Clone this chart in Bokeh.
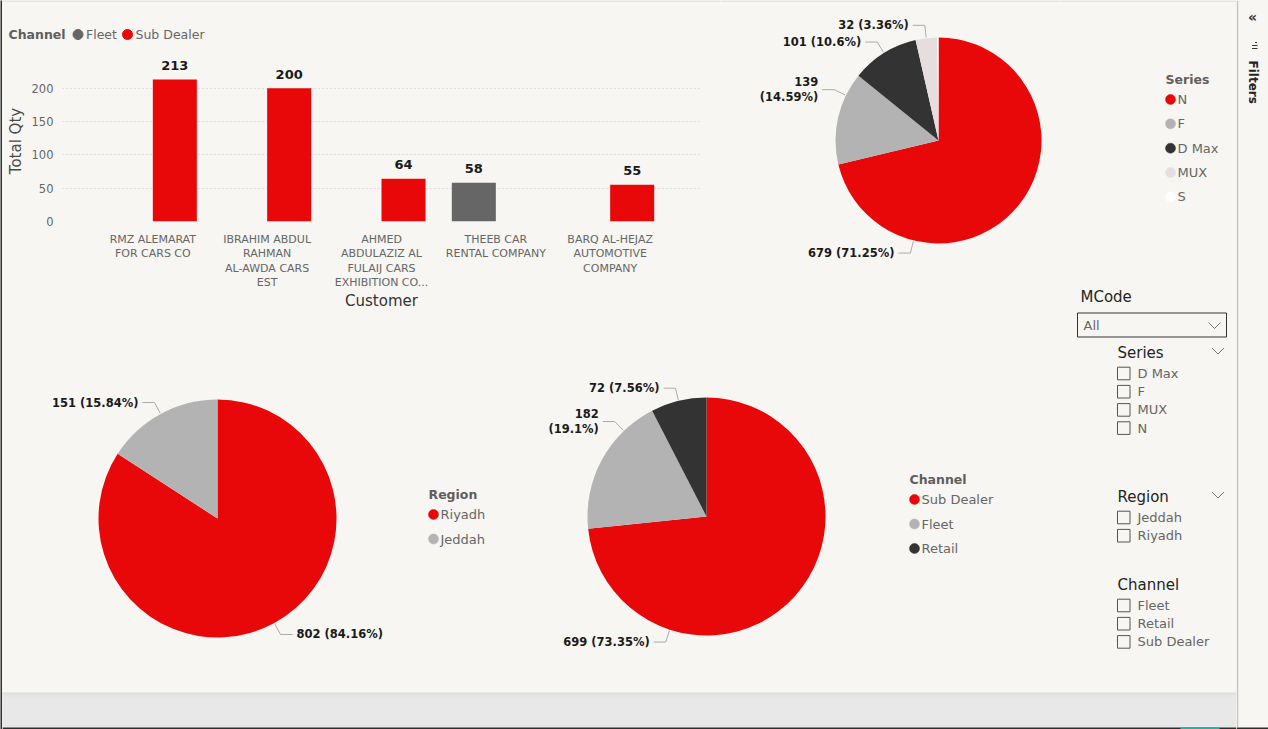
import math
from itertools import accumulate

from bokeh.plotting import figure
from bokeh.layouts import row, column
from bokeh.models import Range1d, FactorRange, ColumnDataSource, FixedTicker
from bokeh.transform import dodge
from bokeh.core.properties import value
from bokeh.embed import file_html
from bokeh.resources import INLINE

# ---------------------------------------------------------------- data
customers = ["RMZ ALEMARAT FOR CARS CO",
             "IBRAHIM ABDUL RAHMAN AL-AWDA CARS EST",
             "AHMED ABDULAZIZ AL FULAIJ CARS EXHIBITION CO...",
             "THEEB CAR RENTAL COMPANY",
             "BARQ AL-HEJAZ AUTOMOTIVE COMPANY"]
customer_tick_labels = ["RMZ ALEMARAT\nFOR CARS CO",
                        "IBRAHIM ABDUL\nRAHMAN\nAL-AWDA CARS\nEST",
                        "AHMED\nABDULAZIZ AL\nFULAIJ CARS\nEXHIBITION CO...",
                        "THEEB CAR\nRENTAL COMPANY",
                        "BARQ AL-HEJAZ\nAUTOMOTIVE\nCOMPANY"]
bar_channels = ["Fleet", "Sub Dealer"]
fleet_qty = [None, None, None, 58, None]
sub_dealer_qty = [213, 200, 64, None, 55]
qty_ticks = [0, 50, 100, 150, 200]

series_names = ["N", "F", "D Max", "MUX", "S"]
series_qty = [679, 139, 101, 32, 2]

region_names = ["Riyadh", "Jeddah"]
region_qty = [802, 151]

channel_names = ["Sub Dealer", "Fleet", "Retail"]
channel_qty = [699, 182, 72]

mcode_value = "All"
slicer_series = ["D Max", "F", "MUX", "N"]
slicer_region = ["Jeddah", "Riyadh"]
slicer_channel = ["Fleet", "Retail", "Sub Dealer"]

# ---------------------------------------------------------------- style
BG = "#F7F6F2"
RED = "#E8080A"
FLEET_GRAY = "#666666"
LIGHT = "#B3B3B3"
DARK = "#333333"
MUXC = "#E6DEDE"
WHITE = "#FFFFFF"
FONT = value("DejaVu Sans")
LEGEND_TITLE_C = "#605E5C"
LEGEND_TEXT_C = "#666666"
BOX = {"background-color": BG}

bar_colors = [FLEET_GRAY, RED]
series_colors = [RED, LIGHT, DARK, MUXC, WHITE]
region_colors = [RED, LIGHT]
channel_colors = [RED, LIGHT, DARK]


def canvas(w, h, bg=BG):
    p = figure(width=w, height=h, x_range=Range1d(0, w), y_range=Range1d(0, h),
               output_backend="svg", toolbar_location=None, min_border=0,
               x_axis_type=None, y_axis_type=None)
    p.grid.visible = False
    p.outline_line_color = None
    p.background_fill_color = bg
    p.border_fill_color = bg
    return p


def txt(p, H, x, ytop, s, size="13px", color="#252423", bold=False,
        align="left", baseline="middle", angle=0.0):
    p.text(x=[x], y=[H - ytop], text=[s], text_font=FONT, text_font_size=size,
           text_color=color, text_font_style="bold" if bold else "normal",
           text_align=align, text_baseline=baseline, angle=angle)


def top_edge(p, H, w):
    p.line([0, w], [H - 0.75, H - 0.75], line_color="#E3E3E3", line_width=1.5)


def legend(p, H, x0, ytop, title, names, colors, step=24.5, gap=20, dot_dx=5, text_dx=12):
    txt(p, H, x0, ytop, title, size="12.5px", color=LEGEND_TITLE_C, bold=True)
    ys = [H - (ytop + gap + step * i) for i in range(len(names))]
    p.scatter(x=[x0 + dot_dx] * len(names), y=ys, size=10, fill_color=colors,
              line_color=colors, line_width=0.5)
    p.text(x=[x0 + text_dx] * len(names), y=ys, text=names, text_font=FONT,
           text_font_size="13px", text_color=LEGEND_TEXT_C,
           text_baseline="middle", text_align="left")


def draw_pie(p, H, cx, cytop, r, names, qty, colors, anchor_override=None, wrapped=()):
    anchor_override = anchor_override or {}
    cy = H - cytop
    total = sum(qty)
    fr = [q / total for q in qty]
    c1 = list(accumulate(fr))
    c0 = [b - f for b, f in zip(c1, fr)]
    src = ColumnDataSource(dict(
        start=[math.pi / 2 - 2 * math.pi * b for b in c1],
        end=[math.pi / 2 - 2 * math.pi * a for a in c0],
        color=colors))
    p.wedge(x=cx, y=cy, radius=r, start_angle="start", end_angle="end",
            direction="anticlock", fill_color="color", line_color=None, source=src)
    xs, ys = [], []
    left = dict(x=[], y=[], t=[])
    right = dict(x=[], y=[], t=[])
    for name, q, a, f in zip(names, qty, c0, fr):
        if f < 0.01:
            continue
        theta = math.radians(anchor_override.get(name, (a + f / 2) * 360))
        dx, dy = math.sin(theta), math.cos(theta)
        x0, y0 = cx + (r + 1) * dx, cy + (r + 1) * dy
        x1, y1 = cx + (r + 13) * dx, cy + (r + 13) * dy
        side = 1 if dx >= 0 else -1
        x2 = x1 + side * 12
        xs.append([x0, x1, x2])
        ys.append([y0, y1, y1])
        pct = f"{round(100 * q / total, 2):g}"
        lab = f"{q}\n({pct}%)" if name in wrapped else f"{q} ({pct}%)"
        d = right if side > 0 else left
        d["x"].append(x2 + side * 4)
        d["y"].append(y1)
        d["t"].append(lab)
    p.multi_line(xs, ys, line_color="#ABABAB", line_width=1)
    for d, al in ((left, "right"), (right, "left")):
        if d["t"]:
            p.text(x=d["x"], y=d["y"], text=d["t"], text_font=FONT,
                   text_font_size="11.5px", text_font_style="bold",
                   text_color="#1A1A1A", text_align=al, text_baseline="middle",
                   text_line_height=1.1)


# ---------------------------------------------------------------- left border
border = canvas(2, 729, bg="#2F2F2F")

# ---------------------------------------------------------------- bar chart legend strip
LW, LH = 718, 50
leg = canvas(LW, LH)
top_edge(leg, LH, LW)
txt(leg, LH, 6, 34, "Channel", size="12.5px", color=LEGEND_TITLE_C, bold=True)
leg_dot_x = [75.5, 125]
leg.scatter(x=leg_dot_x, y=[LH - 34] * 2, size=10, fill_color=bar_colors, line_color=bar_colors)
leg.text(x=[x + 8 for x in leg_dot_x], y=[LH - 34] * 2, text=bar_channels, text_font=FONT,
         text_font_size="12.5px", text_color=LEGEND_TEXT_C, text_baseline="middle")

# ---------------------------------------------------------------- bar chart
bar = figure(width=718, height=265,
             x_range=FactorRange(*customer_tick_labels, range_padding=0.116),
             y_range=Range1d(0, 241.5),
             output_backend="svg", toolbar_location=None,
             min_border_left=60, min_border_right=20, min_border_top=10, min_border_bottom=94)
bar.background_fill_color = BG
bar.border_fill_color = BG
bar.outline_line_color = None
bar.xgrid.visible = False
bar.ygrid.grid_line_color = "#C8C8C8"
bar.ygrid.grid_line_dash = "1 3"
bar.ygrid.grid_line_width = 1

half = 0.385 / 2
label_of = dict(zip(customers, customer_tick_labels))
for qty, col, off in ((fleet_qty, FLEET_GRAY, -half), (sub_dealer_qty, RED, half)):
    cs = [label_of[c] for c, v in zip(customers, qty) if v]
    vs = [v for v in qty if v]
    src = ColumnDataSource(dict(customer=cs, qty=vs, label=[str(v) for v in vs]))
    bar.vbar(x=dodge("customer", off, range=bar.x_range), top="qty", width=0.385,
             fill_color=col, line_color=None, source=src)
    bar.text(x=dodge("customer", off, range=bar.x_range), y="qty", text="label",
             source=src, text_font=FONT, text_font_size="13px", text_font_style="bold",
             text_color="#1A1A1A", text_align="center", text_baseline="alphabetic",
             y_offset=-14)

yax = bar.yaxis[0]
yax.ticker = FixedTicker(ticks=qty_ticks)
yax.axis_line_color = None
yax.major_tick_line_color = None
yax.minor_tick_line_color = None
yax.major_tick_out = 0
yax.major_tick_in = 0
yax.major_label_standoff = 9
yax.major_label_text_font = "DejaVu Sans"
yax.major_label_text_font_size = "11.5px"
yax.major_label_text_color = "#666666"
yax.axis_label = "Total Qty"
yax.axis_label_text_font = "DejaVu Sans"
yax.axis_label_text_font_size = "15px"
yax.axis_label_text_font_style = "normal"
yax.axis_label_text_color = "#4A4A4A"
yax.axis_label_standoff = 4

xax = bar.xaxis[0]
xax.axis_line_color = None
xax.major_tick_line_color = None
xax.minor_tick_line_color = None
xax.major_tick_out = 0
xax.major_tick_in = 0
xax.major_label_standoff = 11
xax.major_label_text_font = "DejaVu Sans"
xax.major_label_text_font_size = "11px"
xax.major_label_text_color = "#666666"
xax.major_label_text_line_height = 1.12
xax.axis_label = "Customer"
xax.axis_label_text_font = "DejaVu Sans"
xax.axis_label_text_font_size = "15px"
xax.axis_label_text_font_style = "normal"
xax.axis_label_text_color = "#333333"
xax.axis_label_standoff = 0

# ---------------------------------------------------------------- series pie
SW, SH = 340, 315
sp = canvas(SW, SH)
top_edge(sp, SH, SW)
draw_pie(sp, SH, 938 - 720, 140, 103, series_names, series_qty, series_colors,
         anchor_override={"N": 194, "F": 296}, wrapped=("F",))

# ---------------------------------------------------------------- region pie
RW, RH = 518, 377
rp = canvas(RW, RH)
draw_pie(rp, RH, 217 - 2, 518 - 315, 119, region_names, region_qty, region_colors)
legend(rp, RH, 428 - 2, 494 - 315, "Region", region_names, region_colors)

# ---------------------------------------------------------------- channel pie
CW, CH = 540, 377
cp = canvas(CW, CH)
draw_pie(cp, CH, 706 - 520, 516 - 315, 119, channel_names, channel_qty, channel_colors,
         anchor_override={"Sub Dealer": 198, "Fleet": 316}, wrapped=("Fleet",))
legend(cp, CH, 909 - 520, 479 - 315, "Channel", channel_names, channel_colors)

# ---------------------------------------------------------------- side panel (series legend + slicers)
DW, DH = 176, 692
sd = canvas(DW, DH)
top_edge(sd, DH, DW)
legend(sd, DH, 1165 - 1060, 79, "Series", series_names, series_colors, step=24.35)

txt(sd, DH, 20, 296.5, "MCode", size="15px", color="#252423")
sd.quad(left=[17], right=[166], top=[DH - 312.5], bottom=[DH - 336.5],
        fill_color=BG, line_color="#333333", line_width=1)
txt(sd, DH, 23, 325, mcode_value, size="13px", color="#666666")


def chevron(p, H, xc, ytop, w=6, h=6):
    p.line([xc - w, xc, xc + w], [H - ytop, H - ytop - h, H - ytop], line_color="#777777", line_width=1)


chevron(sd, DH, 1214 - 1060, 322)
for title, items, ytitle, chev in (("Series", slicer_series, 352.5, True),
                                   ("Region", slicer_region, 496.5, True),
                                   ("Channel", slicer_channel, 584.5, False)):
    txt(sd, DH, 57, ytitle, title, size="15px", color="#252423")
    if chev:
        chevron(sd, DH, 1217.5 - 1060, ytitle - 5)
    iy = [ytitle + 20.5 + 18.2 * i for i in range(len(items))]
    sd.quad(left=[57] * len(items), right=[69.5] * len(items),
            top=[DH - (y - 6.3) for y in iy], bottom=[DH - (y + 6.3) for y in iy],
            fill_color=None, line_color="#555555", line_width=1)
    sd.text(x=[77] * len(items), y=[DH - y for y in iy], text=items, text_font=FONT,
            text_font_size="13px", text_color="#666666", text_baseline="middle")

# ---------------------------------------------------------------- bottom gray strip
GW, GH = 1234, 37
gs = canvas(GW, GH, bg="#E8E8E8")
for i, c in enumerate(["#D8D8D8", "#DDDDDD", "#E1E1E1", "#E4E4E4", "#E6E6E6"]):
    gs.quad(left=[0], right=[GW], top=[GH - i], bottom=[GH - i - 1], fill_color=c, line_color=None)
gs.quad(left=[0], right=[GW], top=[2], bottom=[0], fill_color="#2E2E2E", line_color=None)
gs.quad(left=[1178], right=[1217], top=[2], bottom=[0], fill_color="#1FB5A0", line_color=None)

# ---------------------------------------------------------------- filters pane
FW, FH = 32, 729
fp = canvas(FW, FH)
fp.line([1, 1], [2, FH], line_color="#C4C4C4", line_width=1.5)
fp.quad(left=[0], right=[FW], top=[2], bottom=[0], fill_color="#2E2E2E", line_color=None)
txt(fp, FH, 16, 16, "\u00ab", size="14px", color="#333333", bold=True, align="center")
fp.multi_line([[18.5, 20.5], [15.5, 21], [15.5, 21]], [[FH - 42, FH - 42], [FH - 45, FH - 45], [FH - 48, FH - 48]],
              line_color="#333333", line_width=1.2)
txt(fp, FH, 16, 60, "Filters", size="12px", color="#252423", bold=True,
    align="left", baseline="middle", angle=-math.pi / 2)

# ---------------------------------------------------------------- layout
bar_block = column(column(leg, styles=BOX), column(bar, styles=BOX), styles=BOX)
top_row = row(bar_block, sp, styles=BOX)
bottom_row = row(rp, cp, styles=BOX)
charts = column(top_row, bottom_row, styles=BOX)
main = column(row(charts, sd, styles=BOX), gs, styles=BOX)
page = row(border, main, fp, styles=BOX)

open("out.html", "w").write(file_html(page, INLINE))
